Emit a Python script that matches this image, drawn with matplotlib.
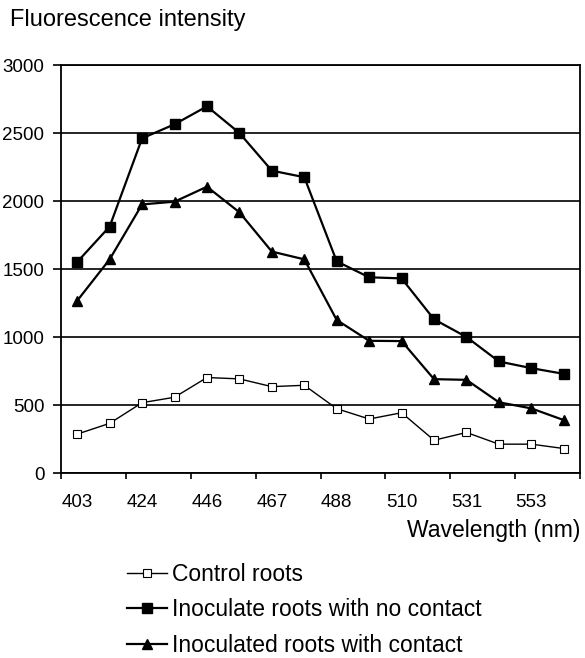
import numpy as np
import matplotlib
matplotlib.use("Agg")
import matplotlib.pyplot as plt

plt.rcParams['font.family'] = ['Liberation Sans', 'DejaVu Sans']

# wavelength categories (nm), only every other one is labelled
wavelengths = [403, 414, 424, 435, 446, 456, 467, 478, 488, 499, 510, 520, 531, 542, 553, 563]
control = [286, 365, 517, 557, 702, 692, 635, 645, 473, 397, 443, 241, 298, 212, 212, 180]
no_contact = [1552, 1812, 2461, 2564, 2696, 2500, 2223, 2175, 1556, 1439, 1431, 1130, 1000, 820, 771, 729]
with_contact = [1267, 1571, 1975, 1995, 2105, 1917, 1628, 1571, 1125, 972, 970, 690, 685, 520, 475, 389]

labels = ["Control roots", "Inoculate roots with no contact", "Inoculated roots with contact"]

fig = plt.figure(figsize=(5.85, 6.58), dpi=100)
# plot area in pixels: x 61..580, y 65..473
ax = fig.add_axes([61 / 585, 1 - 473 / 658, 519 / 585, 408 / 658])

x = np.arange(len(wavelengths))
ax.plot(x, control, "-s", color="black", lw=1.0, ms=5.5, mfc="white", mec="black", mew=0.8, label=labels[0])
ax.plot(x, no_contact, "-s", color="black", lw=1.6, ms=6.5, label=labels[1])
ax.plot(x, with_contact, "-^", color="black", lw=1.6, ms=7.5, label=labels[2])

ax.set_ylim(0, 3000)
ax.set_yticks(np.arange(0, 3001, 500))
ax.yaxis.grid(True, color="black", lw=1.2)
ax.set_axisbelow(True)

ax.set_xlim(-0.5, len(wavelengths) - 0.5)
ax.set_xticks(np.arange(-0.5, len(wavelengths), 2))
ax.set_xticklabels([])
ax.set_xticks(x[::2], minor=True)
ax.set_xticklabels([str(w) for w in wavelengths[::2]], minor=True)
ax.tick_params(axis="x", which="minor", length=0, pad=15, labelsize=13.5)
ax.tick_params(axis="x", which="major", length=4.5, width=1.2, direction="out")
ax.tick_params(axis="y", length=6, width=1.2, direction="out", labelsize=13.5, pad=6)

for s in ax.spines.values():
    s.set_linewidth(1.3)

fig.text(10 / 585, 1 - 20 / 658, "Fluorescence intensity", fontsize=17, va="center", ha="left")
fig.text(580 / 585, 1 - 530 / 658, "Wavelength (nm)", fontsize=16.5, va="center", ha="right")

fig.legend(loc="center left", bbox_to_anchor=(0.181, 1 - 610 / 658), frameon=False,
           fontsize=16.5, handlelength=1.75, handletextpad=0.25, labelspacing=0.55)

fig.savefig("out.png", dpi=100)
